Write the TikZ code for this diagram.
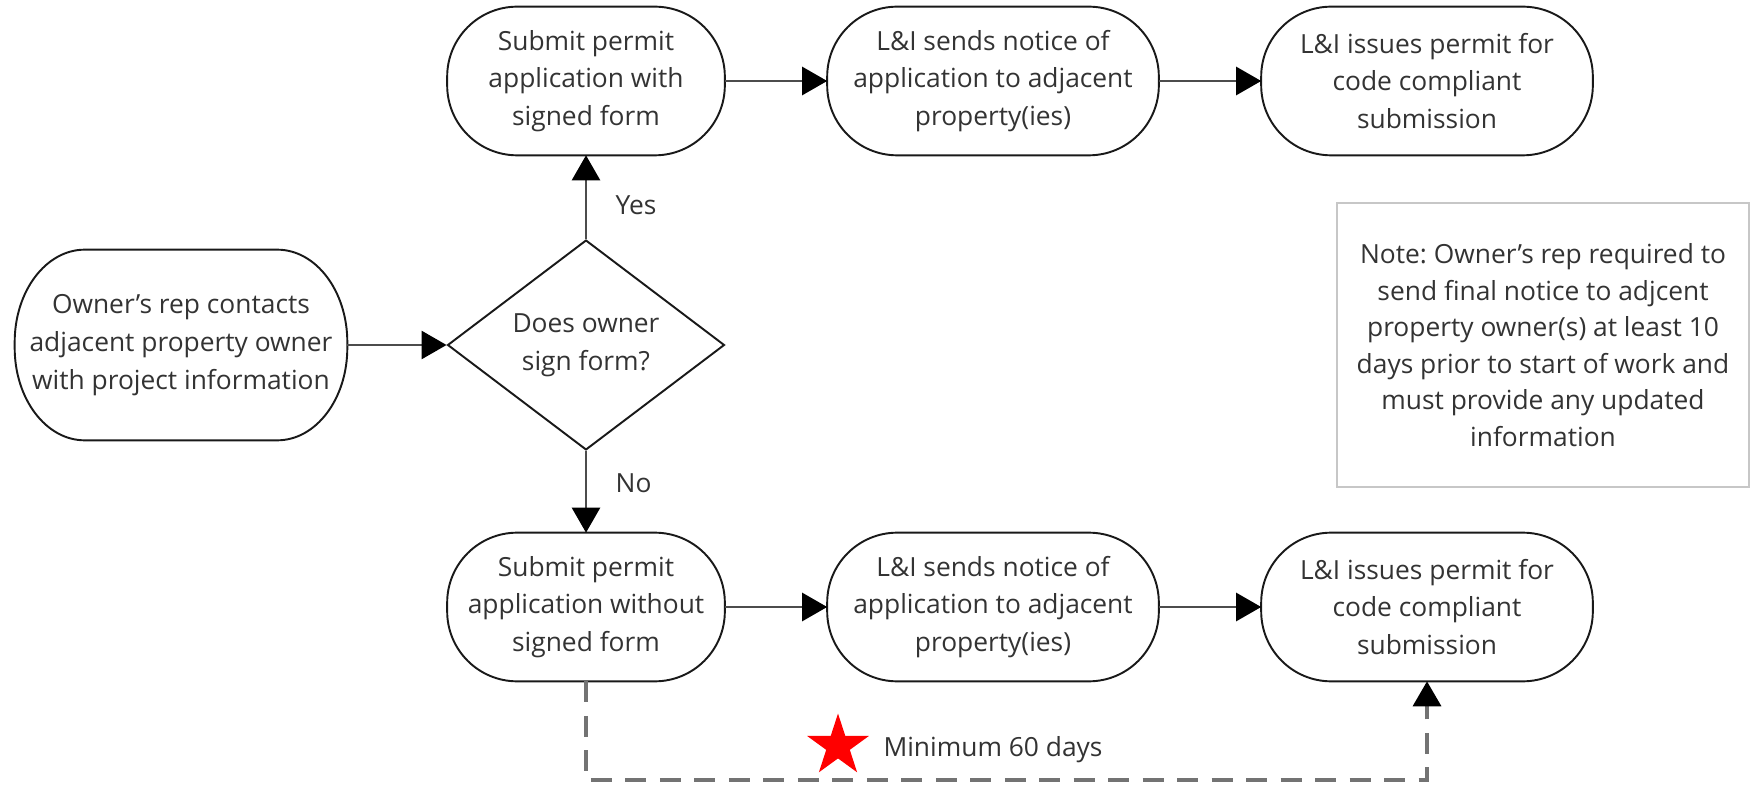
\documentclass[tikz,border=0pt]{standalone}
\usepackage{fontspec}
\setmainfont{Open Sans}
\frenchspacing
\usetikzlibrary{arrows.meta,shapes.geometric,calc}

\newcommand\pilloutline[3]{%
  \draw[boxline] ([xshift=#2]#1.north west) -- ([xshift=-#2]#1.north east)
    .. controls ([xshift=-0.448*#2]#1.north east) and ([yshift=-0.448*#3]#1.north east) .. ([yshift=-#3]#1.north east)
    -- ([yshift=#3]#1.south east)
    .. controls ([yshift=0.448*#3]#1.south east) and ([xshift=-0.448*#2]#1.south east) .. ([xshift=-#2]#1.south east)
    -- ([xshift=#2]#1.south west)
    .. controls ([xshift=0.448*#2]#1.south west) and ([yshift=0.448*#3]#1.south west) .. ([yshift=#3]#1.south west)
    -- ([yshift=-#3]#1.north west)
    .. controls ([yshift=-0.448*#3]#1.north west) and ([xshift=0.448*#2]#1.north west) .. ([xshift=#2]#1.north west)
    -- cycle;}

\begin{document}
\begin{tikzpicture}[x=0.02cm, y=-0.02cm,
  txt/.style = {font=\fontsize{15}{21.5}\selectfont, text=black!80, align=center},
  pill/.style = {txt, shape=rectangle, minimum height=2.96cm, inner sep=0pt},
  boxline/.style = {draw=black!90, line width=1.1pt},
  flow/.style = {draw=black!70, line width=1.5pt, -{Triangle[length=0.5cm,width=0.56cm,color=black]}},
  waitline/.style = {draw=black!55, line width=2pt, dash pattern=on 0.42cm off 0.27cm, -{Triangle[length=0.5cm,width=0.56cm,color=black]}}]
  \useasboundingbox (0,0) rectangle (1750,786);

  \node[pill, minimum width=6.64cm, minimum height=3.8cm] (owner) at (181,345) {Owner's rep contacts\\adjacent property owner\\with project information};
  \node[txt, diamond, draw=black!90, line width=1.1pt, minimum width=5.54cm, minimum height=4.18cm, inner sep=0pt] (signq) at (586,345) {Does owner\\sign form?};

  \node[pill, minimum width=5.54cm] (subyes) at (586,81) {Submit permit\\application with\\signed form};
  \node[pill, minimum width=6.62cm] (noticeyes) at (993,81) {L\&I sends notice of\\application to adjacent\\property(ies)};
  \node[pill, minimum width=6.62cm] (permityes) at (1427,81) {L\&I issues permit for\\code compliant\\submission};

  \node[pill, minimum width=5.54cm] (subno) at (586,607) {Submit permit\\application without\\signed form};
  \node[pill, minimum width=6.62cm] (noticeno) at (993,607) {L\&I sends notice of\\application to adjacent\\property(ies)};
  \node[pill, minimum width=6.62cm] (permitno) at (1427,607) {L\&I issues permit for\\code compliant\\submission};

  \node[txt, draw=black!22, line width=1.3pt, minimum width=8.24cm, minimum height=5.68cm, inner sep=0pt, font=\fontsize{15}{20.8}\selectfont] (note) at (1543,345)
    {Note: Owner's rep required to\\send final notice to adjcent\\property owner(s) at least 10\\days prior to start of work and\\must provide any updated\\information};

  \pilloutline{owner}{1.4cm}{1.85cm}
  \foreach \n in {subyes,noticeyes,permityes,subno,noticeno,permitno}
    \pilloutline{\n}{1.4cm}{1.4cm};

  \draw[flow] (owner) -- (signq);
  \draw[flow] (signq) -- node[txt, pos=0.4, right=0.45cm] (yeslabel) {Yes} (subyes);
  \draw[flow] (signq) -- node[txt, pos=0.4, right=0.45cm] (nolabel) {No} (subno);
  \draw[flow] (subyes) -- (noticeyes);
  \draw[flow] (noticeyes) -- (permityes);
  \draw[flow] (subno) -- (noticeno);
  \draw[flow] (noticeno) -- (permitno);

  \coordinate (waitlow) at (0,780);
  \draw[waitline] (subno.south) -- (subno.south |- waitlow) -| (permitno.south);

  \node[star, star points=5, star point ratio=2.618, fill=red, minimum size=1.3cm, inner sep=0pt] (waitstar) at (838,746) {};
  \node[txt] (waitlabel) at (993,750) {Minimum 60 days};
\end{tikzpicture}
\end{document}
